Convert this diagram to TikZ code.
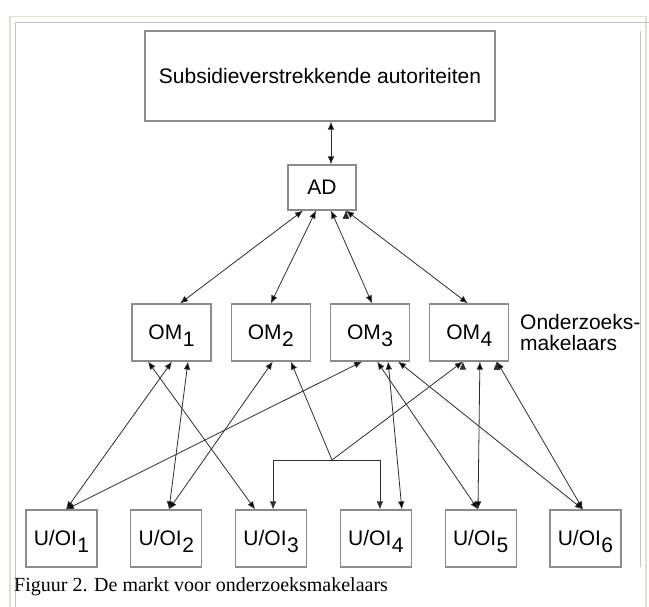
\documentclass[tikz,border=0pt]{standalone}
\usepackage{fontspec}
\setmainfont{Liberation Serif}
\setsansfont{Liberation Sans}
\usetikzlibrary{arrows.meta, positioning}

\definecolor{framebeige}{HTML}{E4E0CA}
\definecolor{framegray}{HTML}{C4C4C4}
\definecolor{boxgray}{HTML}{8C8C8C}
\definecolor{linegray}{HTML}{2E2E2E}

% label with a lowered index, as in the figure
\newcommand{\idx}[2]{#1\kern0.5pt\raisebox{-6.5pt}[0pt][0pt]{#2}}

\tikzset{
  unit/.style={draw=boxgray, line width=1.1pt, minimum width=79pt, minimum height=57pt,
    inner sep=0pt, font=\sffamily\fontsize{21}{21}\selectfont},
  firm/.style={unit, minimum width=71pt, minimum height=57pt},
  link/.style={draw=linegray, line width=0.8pt,
    {Latex[length=8pt,width=6.5pt]}-{Latex[length=8pt,width=6.5pt]}},
  uplink/.style={draw=linegray, line width=0.8pt, {Latex[length=8pt,width=6.5pt]}-},
  downlink/.style={draw=linegray, line width=0.8pt, -{Latex[length=8pt,width=6.5pt]}}
}

\begin{document}
\begin{tikzpicture}[x=1pt, y=1pt, node distance=99.3pt, on grid]
  \useasboundingbox (0,0) rectangle (649,607);
  % page frame
  \draw[framebeige, line width=1.5pt] (10,0) |- (646,590.5) -- (646,0);
  \draw[framegray, line width=0.8pt] (15.5,0) |- (649,584.5);
  \draw[framegray, line width=0.8pt] (640,576) -- (640,40);

  \node[unit, minimum width=350pt, minimum height=90pt] (top) at (320,531)
    {Subsidieverstrekkende autoriteiten};
  \node[unit, minimum width=68pt, minimum height=45pt] (ad) at (322,419.5) {AD};

  \node[unit] (om1) at (171.5,274.5) {\idx{OM}{1}};
  \node[unit] (om2) [right=of om1] {\idx{OM}{2}};
  \node[unit] (om3) [right=of om2] {\idx{OM}{3}};
  \node[unit] (om4) [right=of om3] {\idx{OM}{4}};
  \node[anchor=north west, inner sep=0pt, align=left,
    font=\sffamily\fontsize{21}{21}\selectfont] (role) at (520,293) {Onderzoeks-\\makelaars};

  \node[firm] (uoi1) at (61.5,68.5) {\idx{U/OI}{1}};
  \node[firm] (uoi2) [right=104.8pt of uoi1] {\idx{U/OI}{2}};
  \node[firm] (uoi3) [right=104.8pt of uoi2] {\idx{U/OI}{3}};
  \node[firm] (uoi4) [right=104.8pt of uoi3] {\idx{U/OI}{4}};
  \node[firm] (uoi5) [right=104.8pt of uoi4] {\idx{U/OI}{5}};
  \node[firm] (uoi6) [right=104.8pt of uoi5] {\idx{U/OI}{6}};

  \node[anchor=base west, inner sep=0pt, font=\rmfamily\fontsize{20}{20}\selectfont]
    (caption) at (14,15) {Figuur 2. De markt voor onderzoeksmakelaars};

  \coordinate (join) at (332,147);

  \path[link]
    ([xshift=11pt]top.south) edge ([xshift=9pt]ad.north)
    ([xshift=-19pt]ad.south) edge ([xshift=8.5pt]om1.north)
    ([xshift=-6pt]ad.south) edge (om2.north)
    ([xshift=9pt]ad.south) edge ([xshift=2pt]om3.north)
    ([xshift=24pt]ad.south) edge ([xshift=-1.5pt]om4.north);
  \path[link]
    ([xshift=-23.5pt]om1.south) edge ([xshift=-16pt]uoi3.north)
    ([xshift=0.5pt]om1.south) edge ([xshift=4.5pt]uoi1.north)
    ([xshift=16.5pt]om1.south) edge ([xshift=2.7pt]uoi2.north)
    ([xshift=2pt]om2.south) edge ([xshift=2.7pt]uoi2.north)
    ([xshift=-8pt]om3.south) edge ([xshift=4.5pt]uoi1.north)
    ([xshift=7pt]om3.south) edge ([xshift=-2.7pt]uoi5.north)
    ([xshift=18pt]om3.south) edge ([xshift=26pt]uoi4.north)
    ([xshift=28pt]om3.south) edge ([xshift=-2.5pt]uoi6.north)
    ([xshift=10.5pt]om4.south) edge ([xshift=-2.7pt]uoi5.north)
    ([xshift=27.5pt]om4.south) edge ([xshift=-2.5pt]uoi6.north);
  \path[uplink]
    ([xshift=20pt]om2.south) edge (join)
    ([xshift=-6.5pt]om4.south) edge (join);
  \draw[downlink] (join) -| ([xshift=2pt]uoi3.north);
  \draw[downlink] (join) -| ([xshift=4pt]uoi4.north);
\end{tikzpicture}
\end{document}
